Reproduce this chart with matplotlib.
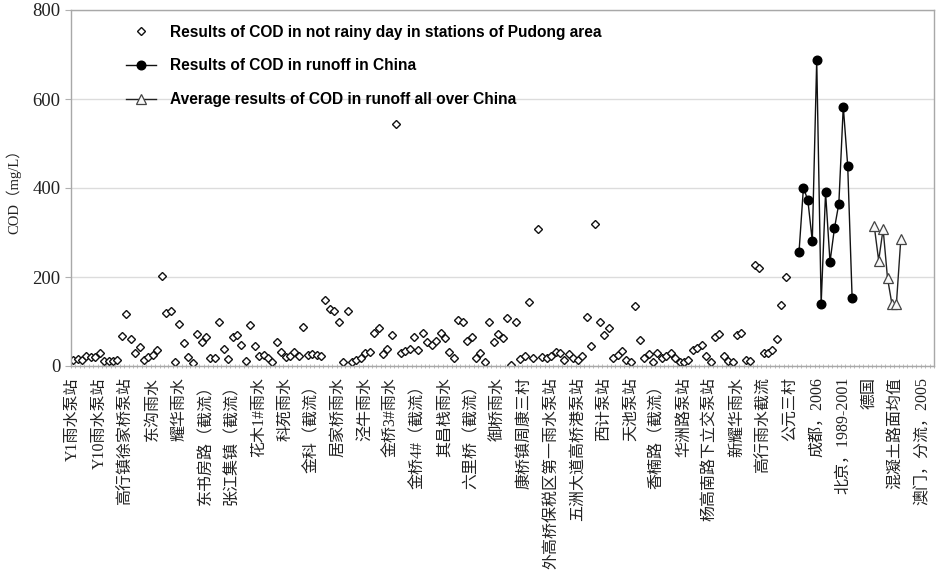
import numpy as np
import matplotlib.pyplot as plt

plt.rcParams['font.family'] = ['Liberation Serif', 'Noto Sans CJK SC', 'DejaVu Sans']

# category names shown on the axis (Excel shows every 6th category)
tick_labels = ['Y1雨水泵站', 'Y10雨水泵站', '高行镇徐家桥泵站', '东沟雨水', '耀华雨水',
               '东书房路（截流）', '张江集镇（截流）', '花木1#雨水', '科苑雨水', '金科（截流）',
               '居家桥雨水', '泾牛雨水', '金桥3#雨水', '金桥4#（截流）', '其昌栈雨水',
               '六里桥（截流）', '御桥雨水', '康桥镇周康三村', '外高桥保税区第一雨水泵站',
               '五洲大道高桥港泵站', '西计泵站', '天池泵站', '香楠路（截流）', '华洲路泵站',
               '杨高南路下立交泵站', '新耀华雨水', '高行雨水截流', '公元三村', '成都，2006',
               '北京，1989-2001', '德国', '混凝土路面均值', '澳门，分流，2005']
label_every = 6
n_categories = 195

# COD (mg/L), not rainy days, Pudong stations
pudong = [13.5, 16.5, 13, 22, 20, 20, 29, 12, 12, 12, 13.5, 67, 116, 61, 29, 43, 14, 20, 25, 35,
          202, 119, 123, 9, 95, 51, 20, 7.5, 71, 55, 65, 18, 18, 100, 38, 15, 66, 70, 47, 12,
          92, 45, 22, 24, 19, 10, 53, 32, 20, 23, 32, 23, 87, 24, 28, 25, 22, 148, 128, 123,
          100, 10, 123, 10, 13, 19, 30, 32, 75, 86, 28, 38, 69, 543, 29, 34, 38, 66, 35, 75,
          53, 47, 56, 75, 64, 32, 19, 104, 98, 56, 65, 17, 29, 9, 99, 53, 71, 62, 107, 1.5,
          98, 15, 23, 144, 17, 307, 20, 19, 23, 32, 29, 14, 26, 17, 14, 23, 110, 45, 320, 98,
          70, 86, 17, 25, 34, 13, 10, 134, 58, 17, 28, 8, 30, 17, 23, 30, 17, 10, 10, 13,
          35, 41, 47, 23, 8, 66, 71, 23, 11, 9, 70, 75, 13, 11, 228, 220, 30, 30, 35, 60,
          137, 201]
# COD in runoff, China (成都 2006, 北京 1989-2001 ...)
runoff_china = [256, 401, 372, 281, 688, 139, 390, 234, 309, 365, 583, 450, 153]
# average COD in runoff all over China
runoff_avg = [314, 237, 308, 197, 139, 139, 285]
gap_before_china = 2
gap_before_avg = 4


def place(values, start):
    y = np.full(n_categories, np.nan)
    y[start:start + len(values)] = values
    return y


x = np.arange(n_categories)
start_china = len(pudong) + gap_before_china
start_avg = start_china + len(runoff_china) + gap_before_avg

fig = plt.figure(figsize=(9.36, 5.77), dpi=100)
ax = fig.add_axes([71 / 936, 1 - 366 / 577, 863 / 936, 356 / 577])

ax.plot(x, place(pudong, 0), linestyle='none', marker='D', markersize=3.6,
        markerfacecolor='white', markeredgecolor='#111111', markeredgewidth=1.0,
        label='Results of COD in not rainy day in stations of Pudong area')
ax.plot(x, place(runoff_china, start_china), color='#111111', linewidth=1.0,
        marker='o', markersize=6.2, markerfacecolor='black', markeredgecolor='black',
        label='Results of COD in runoff in China')
ax.plot(x, place(runoff_avg, start_avg), color='#222222', linewidth=1.0,
        marker='^', markersize=6.5, markerfacecolor='#f8f8f8', markeredgecolor='#444444',
        markeredgewidth=0.9, label='Average results of COD in runoff all over China')

ax.set_xlim(-0.5, n_categories - 0.5)
ax.set_ylim(0, 800)
ax.set_yticks([0, 200, 400, 600, 800])
ax.yaxis.grid(True, color='#dcdcdc', linewidth=1.0)
ax.set_axisbelow(True)

tick_pos = np.arange(len(tick_labels)) * label_every
ax.set_xticks(tick_pos)
ax.set_xticklabels(tick_labels, rotation=90, va='top', ha='center', fontsize=11.5,
                   family=['Liberation Serif', 'Noto Sans CJK SC'], color='#222222')
ax.set_xticks(np.arange(n_categories + 1) - 0.5, minor=True)
ax.tick_params(axis='x', which='major', length=0, pad=8)
ax.tick_params(axis='x', which='minor', length=3, direction='inout', color='#b0b0b0')
ax.tick_params(axis='y', length=4, color='#b0b0b0', labelsize=13.5, labelcolor='#222222')

for s in ax.spines.values():
    s.set_color('#a8a8a8')
    s.set_linewidth(1.0)

ax.set_ylabel('COD（mg/L）', fontsize=10.5, color='#222222', labelpad=8)

ax.legend(loc='upper left', bbox_to_anchor=(0.048, 0.998), frameon=False, numpoints=1,
          handlelength=1.9, handletextpad=0.9, labelspacing=1.2,
          prop={'family': 'Liberation Sans', 'weight': 'bold', 'size': 11.2})

fig.savefig('out.png', dpi=100)
